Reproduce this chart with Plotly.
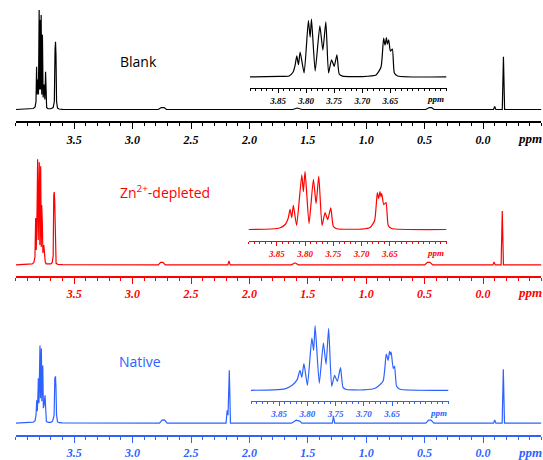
import plotly.graph_objects as go

W, H = 543, 460

# ---------------- data (ppm, intensity) ----------------
blank_ppm = [4.00, 3.90, 3.85, 3.835, 3.827, 3.822, 3.818, 3.812, 3.806, 3.800, 3.796, 3.791,
             3.787, 3.783, 3.778, 3.772, 3.766, 3.757, 3.751, 3.745, 3.741, 3.736, 3.725, 3.70,
             3.68, 3.670, 3.664, 3.660, 3.656, 3.651, 3.643, 3.63, 3.60, 2.78, 2.755, 2.73,
             2.71, 1.63, 1.59, 1.55, 0.49, 0.46, 0.44, 0.42, -0.09, -0.10, -0.11, -0.165,
             -0.175, -0.185, -0.50]
blank_int = [0, 0.3, 1, 2.5, 8, 43, 15, 30, 15, 100, 20, 90,
             20, 95, 15, 75, 12, 25, 10, 38, 8, 2, 0.8, 0.8,
             2, 8, 60, 68, 55, 8, 1.5, 0.5, 0.2, 0, 2, 2,
             0, 0, 1.5, 0, 0, 2, 2, 0, 0, 3, 0, 0,
             53, 0, 0]

zn_ppm = [4.00, 3.90, 3.86, 3.845, 3.836, 3.830, 3.825, 3.818, 3.813, 3.808, 3.803, 3.799,
          3.794, 3.787, 3.782, 3.778, 3.773, 3.768, 3.760, 3.755, 3.748, 3.740, 3.72, 3.70,
          3.688, 3.680, 3.675, 3.671, 3.667, 3.662, 3.655, 3.64, 3.60, 2.78, 2.76, 2.74,
          2.72, 2.185, 2.175, 2.165, 1.64, 1.61, 1.58, 0.50, 0.475, 0.455, 0.43, -0.085,
          -0.095, -0.105, -0.155, -0.165, -0.175, -0.50]
zn_int = [0, 0.3, 1, 2.5, 8, 47, 15, 55, 106, 25, 95, 103,
          20, 99, 18, 60, 43, 12, 20, 10, 3, 1, 0.8, 1,
          2.5, 9, 70, 73, 65, 9, 1.5, 0.5, 0.2, 0, 2.5, 2.5,
          0, 0, 4, 0, 0, 2, 0, 0, 2.5, 2.5, 0, 0,
          3, 0, 0, 54, 0, 0]

native_ppm = [4.00, 3.90, 3.85, 3.835, 3.827, 3.821, 3.816, 3.810, 3.807, 3.802, 3.797, 3.793,
              3.789, 3.785, 3.781, 3.777, 3.772, 3.769, 3.764, 3.758, 3.750, 3.745, 3.738, 3.72,
              3.70, 3.685, 3.672, 3.666, 3.660, 3.656, 3.651, 3.643, 3.63, 3.60, 2.77, 2.745,
              2.725, 2.705, 2.2, 2.19, 2.183, 2.172, 2.162, 1.64, 1.60, 1.57, 1.55, 1.29,
              1.28, 1.27, 0.49, 0.465, 0.445, 0.42, -0.09, -0.10, -0.11, -0.164, -0.174,
              -0.184, -0.50]
native_int = [0, 0.3, 1, 2.5, 8, 23, 12, 30, 45, 20, 50, 78,
              25, 60, 75, 22, 50, 58, 15, 18, 28, 6, 1.5, 0.8,
              0.8, 2, 8, 45, 47, 35, 8, 1.5, 0.5, 0.2, 0, 3.3,
              3, 0, 0, 13, 8, 53, 0, 0, 3, 2, 0, 0,
              6.7, 0, 0, 3, 3, 0, 0, 3.3, 0, 0, 54,
              0, 0]

# insets (3.90 - 3.55 ppm)
blank_in_ppm = [3.90, 3.848, 3.8304, 3.8232, 3.8196, 3.8167, 3.8137, 3.8107, 3.8036, 3.796,
                3.7929, 3.7905, 3.7839, 3.7756, 3.7702, 3.7649, 3.7601, 3.7548, 3.750, 3.7452,
                3.7411, 3.7352, 3.6995, 3.6755, 3.6666, 3.662, 3.6595, 3.657, 3.6554, 3.653,
                3.650, 3.6464, 3.6429, 3.637, 3.55]
blank_in_int = [0, 0.5, 1, 5, 12, 21.3, 12.3, 25, 4, 56.7,
                40, 58, 6, 51.3, 27, 55.3, 4, 17.3, 10.7, 22.3,
                3, 0.8, 0.4, 2, 10, 39, 32, 39.6, 33, 37.3,
                26, 28, 4, 1, 0]

zn_in_ppm = [3.90, 3.86, 3.845, 3.835, 3.830, 3.8265, 3.8236, 3.8207, 3.815, 3.8058,
             3.803, 3.800, 3.793, 3.7853, 3.7805, 3.7758, 3.770, 3.7647, 3.760, 3.7546,
             3.750, 3.744, 3.70, 3.685, 3.677, 3.6723, 3.670, 3.6675, 3.666, 3.6645,
             3.661, 3.6569, 3.653, 3.647, 3.55]
zn_in_int = [0, 0.5, 1.5, 5, 11, 20.3, 12, 24.3, 4, 55,
             38, 58.3, 6, 50.3, 26, 53.7, 4, 17, 10, 21.7,
             3, 0.8, 0.4, 2, 9, 37, 31, 38, 33, 36,
             25, 27, 4, 1, 0]

native_in_ppm = [3.90, 3.86, 3.84, 3.827, 3.818, 3.8132, 3.810, 3.8062, 3.800, 3.7922,
                 3.789, 3.7864, 3.779, 3.7717, 3.767, 3.7624, 3.757, 3.7519, 3.747, 3.7414,
                 3.737, 3.731, 3.70, 3.68, 3.666, 3.6603, 3.657, 3.6544, 3.653, 3.6516,
                 3.648, 3.6456, 3.642, 3.636, 3.55]
native_in_int = [0, 0.5, 1.5, 5, 11, 20, 13, 26.7, 5, 52.3,
                 40, 65, 7, 47.7, 26, 62.3, 4, 15, 9, 22.7,
                 3, 0.8, 0.4, 2, 9, 36.3, 30, 39, 36, 38.3,
                 22, 24, 4, 1, 0]

main_tickvals = [3.5, 3.0, 2.5, 2.0, 1.5, 1.0, 0.5, 0.0]
main_ticktext = ["3.5", "3.0", "2.5", "2.0", "1.5", "1.0", "0.5", "0.0"]
inset_tickvals = [3.85, 3.80, 3.75, 3.70, 3.65]
inset_ticktext = ["3.85", "3.80", "3.75", "3.70", "3.65"]

labels = ["Blank", "Zn<sup>2+</sup>-depleted", "Native"]
colors = ["#000000", "#ff0000", "#2d62ff"]

# ---------------- layout geometry (pixels) ----------------
def xd(a, b):
    return [a / W, b / W]

def yd(top, bottom):
    return [1 - bottom / H, 1 - top / H]

main_geo = [  # (top px, axis px, y range)
    (0, 122, [-12, 110]),
    (150, 277, [-11, 116]),
    (310, 437, [-12, 115]),
]
inset_geo = [  # (x0, x1, top, axis, y range)
    (250, 446.5, 15, 88, [-10.7, 62.3]),
    (248.5, 446.5, 165, 241.7, [-11.2, 65.5]),
    (251, 448.5, 320, 402.5, [-10.5, 72]),
]

fig = go.Figure()
main_sets = [(blank_ppm, blank_int), (zn_ppm, zn_int), (native_ppm, native_int)]
inset_sets = [(blank_in_ppm, blank_in_int), (zn_in_ppm, zn_in_int), (native_in_ppm, native_in_int)]

for i, (xs, ys) in enumerate(main_sets):
    n = "" if i == 0 else str(i + 1)
    fig.add_trace(go.Scatter(x=xs, y=ys, mode="lines", xaxis="x" + n, yaxis="y" + n,
                             line=dict(color=colors[i], width=1.2), hoverinfo="skip",
                             showlegend=False))
for i, (xs, ys) in enumerate(inset_sets):
    n = str(i + 4)
    fig.add_trace(go.Scatter(x=xs, y=ys, mode="lines", xaxis="x" + n, yaxis="y" + n,
                             line=dict(color=colors[i], width=1.2, shape="spline",
                                       smoothing=0.5),
                             hoverinfo="skip", showlegend=False))

layout = dict(width=W, height=H, autosize=False, margin=dict(l=0, r=0, t=0, b=0),
              paper_bgcolor="white", plot_bgcolor="rgba(0,0,0,0)", showlegend=False)

serif_bi = dict(family="Liberation Serif", weight="bold", style="italic")

for i, (top, axis, yr) in enumerate(main_geo):
    n = "" if i == 0 else str(i + 1)
    c = colors[i]
    layout["xaxis" + n] = dict(
        domain=xd(15.8, 541.4), range=[4.0, -0.5], anchor="y" + n,
        showline=True, linecolor=c, linewidth=1.5, showgrid=False, zeroline=False,
        ticks="outside", ticklen=6, tickwidth=1.3, tickcolor=c,
        tickmode="array", tickvals=main_tickvals, ticktext=main_ticktext,
        minor=dict(tickmode="linear", tick0=0, dtick=0.1, ticks="outside", ticklen=3,
                   tickwidth=1, tickcolor=c),
        tickfont=dict(size=12, color=c, **serif_bi), fixedrange=True)
    layout["yaxis" + n] = dict(domain=yd(top, axis), range=yr, visible=False,
                               anchor="x" + n, fixedrange=True)

for i, (x0, x1, top, axis, yr) in enumerate(inset_geo):
    n = str(i + 4)
    c = colors[i]
    layout["xaxis" + n] = dict(
        domain=xd(x0, x1), range=[3.90, 3.55], anchor="y" + n,
        showline=True, linecolor=c, linewidth=1.2, showgrid=False, zeroline=False,
        ticks="outside", ticklen=4, tickwidth=1.1, tickcolor=c,
        tickmode="array", tickvals=inset_tickvals, ticktext=inset_ticktext,
        minor=dict(tickmode="linear", tick0=3.55, dtick=0.01, ticks="outside", ticklen=2,
                   tickwidth=1, tickcolor=c),
        tickfont=dict(size=9, color=c, **serif_bi), fixedrange=True)
    layout["yaxis" + n] = dict(domain=yd(top, axis), range=yr, visible=False,
                               anchor="x" + n, fixedrange=True)

annotations = []
label_pos = [(118, 62), (118, 193), (117, 363)]
for i, (lx, ly) in enumerate(label_pos):
    annotations.append(dict(text=labels[i], x=lx / W, y=1 - ly / H, xref="paper", yref="paper",
                            xanchor="left", yanchor="middle", showarrow=False,
                            font=dict(family="Open Sans", size=14, color=colors[i])))
main_ppm_y = [139, 294, 454]
for i, py in enumerate(main_ppm_y):
    annotations.append(dict(text="ppm", x=530 / W, y=1 - py / H, xref="paper", yref="paper",
                            xanchor="center", yanchor="middle", showarrow=False,
                            font=dict(size=13, color=colors[i], **serif_bi)))
inset_ppm_pos = [(435, 99), (435, 254), (438, 415)]
for i, (px_, py) in enumerate(inset_ppm_pos):
    annotations.append(dict(text="ppm", x=px_ / W, y=1 - py / H, xref="paper", yref="paper",
                            xanchor="center", yanchor="middle", showarrow=False,
                            font=dict(size=9, color=colors[i], **serif_bi)))
layout["annotations"] = annotations

fig.update_layout(**layout)
fig.write_html("out.html", config={"displayModeBar": False},
               post_script="document.body.style.margin='0px';document.body.style.overflow='hidden';")
